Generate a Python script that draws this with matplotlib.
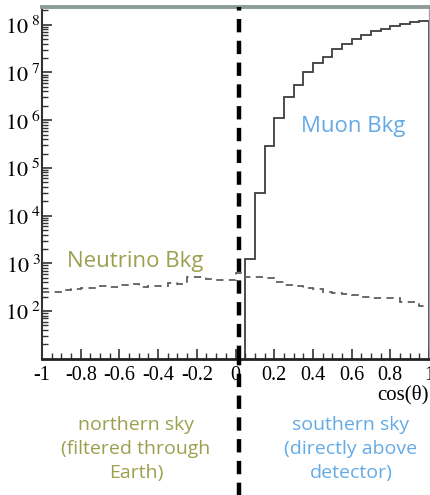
import numpy as np
import matplotlib
matplotlib.use("Agg")
import matplotlib.pyplot as plt
from matplotlib.ticker import FixedLocator, LogLocator, MultipleLocator, FuncFormatter, NullFormatter

plt.rcParams["mathtext.fontset"] = "stix"

# cos(theta) binning, 0.05 wide
edges = np.round(np.arange(-1.0, 1.0001, 0.05), 2)

# atmospheric muon background, only above the horizon (cos > 0.05)
muon_edges = edges[21:]
muon_log = [3.08, 4.47, 5.46, 6.05, 6.48, 6.74, 7.02, 7.19, 7.33, 7.49,
            7.60, 7.70, 7.79, 7.86, 7.92, 7.97, 8.02, 8.06, 8.08]
muon = 10 ** np.array(muon_log)

# atmospheric neutrino background, full sky
nu = [254, 256, 275, 289, 303, 303, 334, 314, 343, 368,
      314, 327, 334, 381, 363, 524, 516, 469, 447, 447,
      617, 524, 508, 492, 411, 351, 327, 296, 285, 250,
      235, 227, 216, 197, 185, 185, 185, 157, 154, 127]

horizon = 0.02
xticks = [-1, -0.8, -0.6, -0.4, -0.2, 0, 0.2, 0.4, 0.6, 0.8, 1]
xticklabels = ["-1", "-0.8", "-0.6", "-0.4", "-0.2", "0", "0.2", "0.4", "0.6", "0.8", "1"]

olive = "#9aa04e"
blue = "#63aae6"

fig = plt.figure(figsize=(4.30, 4.95), dpi=100)
ax = fig.add_axes([0.0977, 0.2754, 0.9, 0.7105])

ax.stairs(muon, muon_edges, baseline=10, color="#3a3f3f", lw=1.3)
ax.stairs(nu, edges, baseline=None, color="#5a6060", lw=1.3, linestyle=(0, (4, 3)))

ax.set_yscale("log")
ax.set_xlim(-1, 1)
ax.set_ylim(10, 2.36e8)

ax.yaxis.set_major_locator(FixedLocator([1e2, 1e3, 1e4, 1e5, 1e6, 1e7, 1e8]))
ax.yaxis.set_minor_locator(LogLocator(base=10, subs=np.arange(2, 10), numticks=20))
ax.yaxis.set_major_formatter(FuncFormatter(lambda v, p: r"$10^{\ %d}$" % round(np.log10(v))))
ax.yaxis.set_minor_formatter(NullFormatter())

ax.xaxis.set_major_locator(FixedLocator(xticks))
ax.set_xticklabels(xticklabels)
ax.xaxis.set_minor_locator(MultipleLocator(0.05))

ax.tick_params(axis="both", which="both", direction="in", colors="#333333", labelcolor="black")
ax.tick_params(axis="both", which="major", length=7, width=1.2)
ax.tick_params(axis="both", which="minor", length=4, width=1.0)
ax.tick_params(axis="y", labelsize=16, pad=1)
ax.tick_params(axis="x", labelsize=14.5, pad=5)
for lab in ax.get_xticklabels():
    lab.set_family("Liberation Serif")

ax.spines["top"].set_color("#8d9b9b")
ax.spines["top"].set_linewidth(2.8)
ax.spines["right"].set_color("#9aa5a5")
ax.spines["right"].set_linewidth(1.0)
ax.spines["left"].set_color("#333333")
ax.spines["left"].set_linewidth(1.5)
ax.spines["bottom"].set_color("#222222")
ax.spines["bottom"].set_linewidth(2.0)

# horizon marker, running over the whole figure height
ax.plot([horizon, horizon], [0, 1], transform=ax.get_xaxis_transform(), clip_on=False,
        color="black", lw=3.2, linestyle=(0, (3.0, 1.9)), zorder=5)
ax.plot([horizon, horizon], [-0.39, 0], transform=ax.get_xaxis_transform(), clip_on=False,
        color="black", lw=3.2, linestyle=(0, (3.0, 1.9)), zorder=5)

ax.text(1.0, -0.103, "cos(θ)", transform=ax.transAxes, ha="right", va="center",
        fontsize=15, family="Liberation Serif")

ax.text(0.61, 7.2e5, "Muon Bkg", color=blue, fontsize=16, family="Open Sans",
        ha="center", va="center")
ax.text(-0.52, 1.1e3, "Neutrino Bkg", color=olive, fontsize=16, family="Open Sans",
        ha="center", va="center")

fig.text(0.316, 0.093, "northern sky\n(filtered through\nEarth)", color=olive, fontsize=14,
         family="Open Sans", ha="center", va="center", linespacing=1.4)
fig.text(0.816, 0.093, "southern sky\n(directly above\ndetector)", color=blue, fontsize=14,
         family="Open Sans", ha="center", va="center", linespacing=1.4)

fig.savefig("out.png", dpi=100)
